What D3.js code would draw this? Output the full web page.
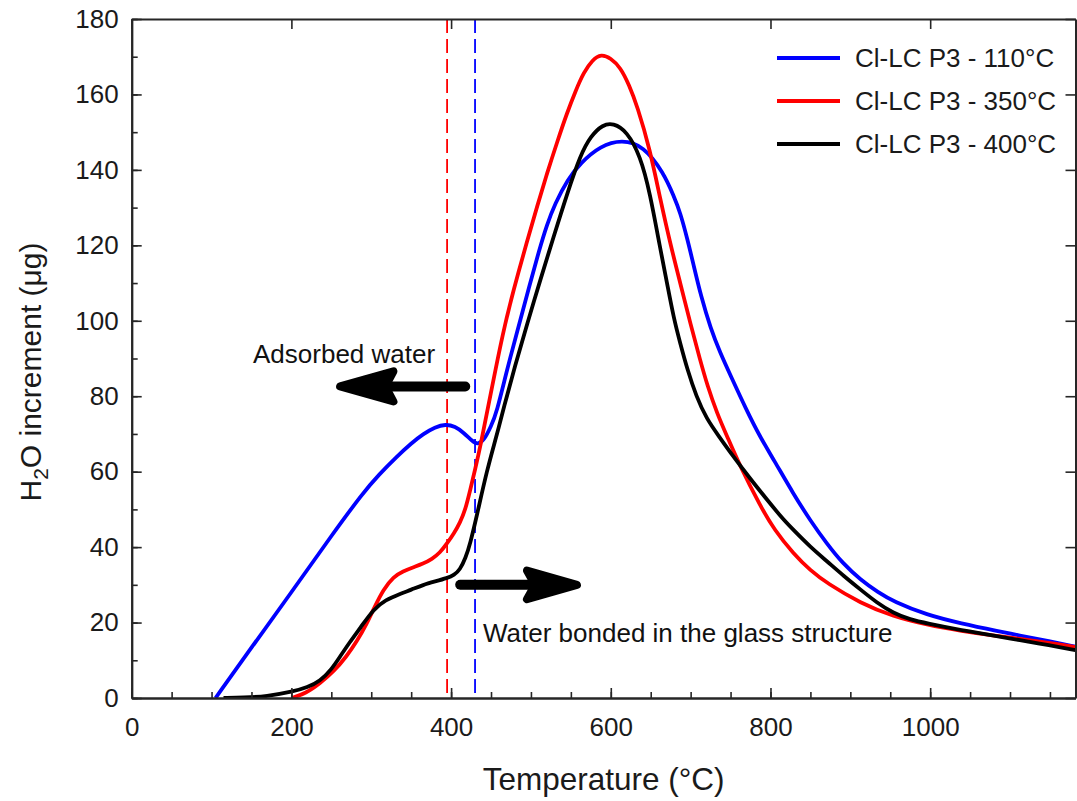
<!DOCTYPE html>
<html>
<head>
<meta charset="utf-8">
<script src="https://cdn.jsdelivr.net/npm/d3@7"></script>
<style>
  html, body { margin: 0; padding: 0; background: #fff; }
  svg { display: block; font-family: "Liberation Sans", Arial, sans-serif; }
</style>
</head>
<body>
<svg id="chart" width="1077" height="801"></svg>
<script>
// ---------- data ----------
const seriesNames = ["Cl-LC P3 - 110°C", "Cl-LC P3 - 350°C", "Cl-LC P3 - 400°C"];
const xTicks = [0, 200, 400, 600, 800, 1000];
const yTicks = [0, 20, 40, 60, 80, 100, 120, 140, 160, 180];

const temp110 = [105,148,200,250,290,310,332,350,365,380,393,405,416,427,433,441,450,457,470,482,499,510,520,530,546,562,587,614,641,666,679,687,696,704,713,725,737,750,770,787,804,829,850,871,890,913,935,954,996,1038,1088,1109,1150,1182];
const h2o110  = [0,12.8,28,43,54.5,59.3,64,67.5,70,71.8,72.6,72,70.3,68,67.2,68.2,72,75.6,87,96.5,110,118.5,125.5,131,137.5,141.8,146.4,148,146.4,139.3,133,128.7,121.6,114.5,106.5,98,91.5,85.5,76.3,69.2,63.2,54,47,40.8,35.8,31.3,28,25.6,22,19.8,17.6,16.7,15,13.6];

const temp350 = [200,218,236,253,269,282,294,305,315,328,340,352,365,376,386,395,404,411,418,424,430,437,449,465,478,495,508,520,533,545,556,566,577,588,600,612,623,633,649,662,675,687,700,712,721,733,746,762,787,805,829,850,871,913,954,996,1038,1088,1109,1150,1182];
const h2o350  = [0,1.2,3.9,7,11,15,19.5,24.5,28.7,32.2,33.6,34.6,35.6,36.8,38.5,41,43.8,46.4,50,55.2,60.5,67,80,97,108,121,130.5,139,147.5,155,161,165.8,169.2,170.7,169.6,167.2,162.5,157,145.5,132.2,120,110,99,89.5,82.8,75.5,69.2,61.4,51,44.5,38.2,33.8,30.4,25.1,21.6,19.4,17.8,16.3,15.8,14.6,13.5];

const temp400 = [115,140,169,202,220,236,250,261,273,286,303,318,336,350,365,380,395,404,411,418,424,432,445,457,466,480,495,512,528,545,562,575,590,603,620,637,649,662,670,679,687,696,707,720,735,750,775,796,816,829,850,871,892,913,933,954,975,996,1038,1088,1109,1150,1182];
const h2o400  = [0,0.1,0.4,1.7,2.8,4.5,7.5,11,14.8,18.5,23.6,26,27.6,28.7,30,30.9,31.8,32.6,34,37,41,48.1,60.5,69.5,77,88,99,111,122,133.5,144,149,152,152.4,150.3,143.7,134,119,110.5,100.5,94,87,80,74,69.5,65,58,52.5,47.3,44.5,40,36.2,32.3,28.7,25.3,22.5,20.8,19.8,18,16.3,15.4,14,12.7];

const markerTemps = [395, 430];            // dashed vertical lines
const annotationTexts = ["Adsorbed water", "Water bonded in the glass structure"];

// ---------- layout ----------
const svg = d3.select("#chart");
const x = d3.scaleLinear().domain([0, 1182]).range([131.7, 1075.5]);
const y = d3.scaleLinear().domain([0, 180]).range([698, 19]);
const colors = ["#0000ff", "#ff0000", "#000000"];
const axisColor = "#262626";
const fontSize = 26;

// clip
svg.append("clipPath").attr("id", "clip").append("rect")
  .attr("x", x(0)).attr("y", y(180)).attr("width", x(1182) - x(0)).attr("height", y(0) - y(180));

// dashed vertical lines
const dashColors = ["#ff0000", "#0000ff"];
markerTemps.forEach((t, i) => {
  svg.append("line")
    .attr("x1", x(t)).attr("x2", x(t)).attr("y1", y(180)).attr("y2", y(0))
    .attr("stroke", dashColors[i]).attr("stroke-width", 1.8)
    .attr("stroke-dasharray", "14,6");
});

// curves
const series = [
  temp110.map((t, i) => [t, h2o110[i]]),
  temp350.map((t, i) => [t, h2o350[i]]),
  temp400.map((t, i) => [t, h2o400[i]])
];
const line = d3.line().x(d => x(d[0])).y(d => y(d[1])).curve(d3.curveBasis);
series.forEach((s, i) => {
  svg.append("path").datum(s)
    .attr("d", line).attr("fill", "none")
    .attr("stroke", colors[i]).attr("stroke-width", 3.8)
    .attr("stroke-linejoin", "round")
    .attr("clip-path", "url(#clip)");
});

// arrows
function arrow(x0, x1, yv, headBack, headHalf) {
  svg.append("line")
    .attr("x1", x(x0)).attr("x2", x(x1 + (x0 > x1 ? 8 : -8))).attr("y1", y(yv)).attr("y2", y(yv))
    .attr("stroke", "#000").attr("stroke-width", 10).attr("stroke-linecap", "round");
  const dir = x0 > x1 ? 1 : -1;
  const tip = [x(x1), y(yv)];
  const b1 = [x(headBack), y(yv + headHalf)];
  const b2 = [x(headBack), y(yv - headHalf)];
  const notch = [x(headBack) - dir * 8, y(yv)];
  svg.append("path")
    .attr("d", "M" + tip + "L" + b1 + "L" + notch + "L" + b2 + "Z")
    .attr("fill", "#000").attr("stroke", "#000").attr("stroke-width", 8)
    .attr("stroke-linejoin", "round");
}
arrow(417.7, 261, 82.6, 327.8, 4);
arrow(411.4, 557.6, 30, 495, 3.8);

// annotation text
svg.append("text").attr("x", 253).attr("y", 363)
  .attr("font-size", fontSize).attr("fill", "#111").text(annotationTexts[0]);
svg.append("text").attr("x", 483).attr("y", 642)
  .attr("font-size", fontSize).attr("fill", "#111").text(annotationTexts[1]);

// axes
function styleAxis(g) {
  g.selectAll(".domain").attr("stroke", axisColor).attr("stroke-width", 2);
  g.selectAll(".tick line").attr("stroke", axisColor).attr("stroke-width", 1.6);
  g.selectAll(".tick text").attr("fill", "#1a1a1a").attr("font-size", fontSize)
    .attr("font-family", "Liberation Sans, Arial, sans-serif");
}
const xMinor = d3.range(0, 1182, 50);
const yMinor = d3.range(0, 181, 10);

const gxMinor = svg.append("g").attr("transform", `translate(0,${y(0)})`)
  .call(d3.axisBottom(x).tickValues(xMinor).tickSize(-6).tickFormat("").tickSizeOuter(0));
styleAxis(gxMinor);
const gx = svg.append("g").attr("transform", `translate(0,${y(0)})`)
  .call(d3.axisBottom(x).tickValues(xTicks).tickFormat(d3.format("d")).tickSize(-10).tickSizeOuter(0));
styleAxis(gx);
gx.selectAll(".tick text").attr("dy", "0.71em").attr("y", 20);

const gyMinor = svg.append("g").attr("transform", `translate(${x(0)},0)`)
  .call(d3.axisLeft(y).tickValues(yMinor).tickSize(-6).tickFormat("").tickSizeOuter(0));
styleAxis(gyMinor);
const gy = svg.append("g").attr("transform", `translate(${x(0)},0)`)
  .call(d3.axisLeft(y).tickValues(yTicks).tickFormat(d3.format("d")).tickSize(-10).tickSizeOuter(0));
styleAxis(gy);
gy.selectAll(".tick text").attr("x", -13);

const gTop = svg.append("g").attr("transform", `translate(0,${y(180)})`)
  .call(d3.axisTop(x).tickValues(xTicks).tickSize(-10).tickFormat("").tickSizeOuter(0));
styleAxis(gTop);
const gRight = svg.append("g").attr("transform", `translate(${x(1182)},0)`)
  .call(d3.axisRight(y).tickValues(yTicks).tickSize(-10).tickFormat("").tickSizeOuter(0));
styleAxis(gRight);

// axis titles
svg.append("text")
  .attr("x", (x(0) + x(1182)) / 2).attr("y", 790)
  .attr("text-anchor", "middle").attr("font-size", 31.5).attr("fill", "#1a1a1a")
  .text("Temperature (°C)");

const yt = svg.append("text")
  .attr("transform", `translate(41,372) rotate(-90)`)
  .attr("text-anchor", "middle").attr("font-size", 30).attr("fill", "#1a1a1a");
yt.append("tspan").text("H");
yt.append("tspan").attr("font-size", 21).attr("dy", 7).text("2");
yt.append("tspan").attr("dy", -7).text("O increment (μg)");

// legend
const legendY = [58, 101, 144];
seriesNames.forEach((name, i) => {
  svg.append("line")
    .attr("x1", 777).attr("x2", 840).attr("y1", legendY[i]).attr("y2", legendY[i])
    .attr("stroke", colors[i]).attr("stroke-width", 3.8);
  svg.append("text").attr("x", 855).attr("y", legendY[i] + 9)
    .attr("font-size", fontSize).attr("fill", "#1a1a1a").text(name);
});
</script>
</body>
</html>
